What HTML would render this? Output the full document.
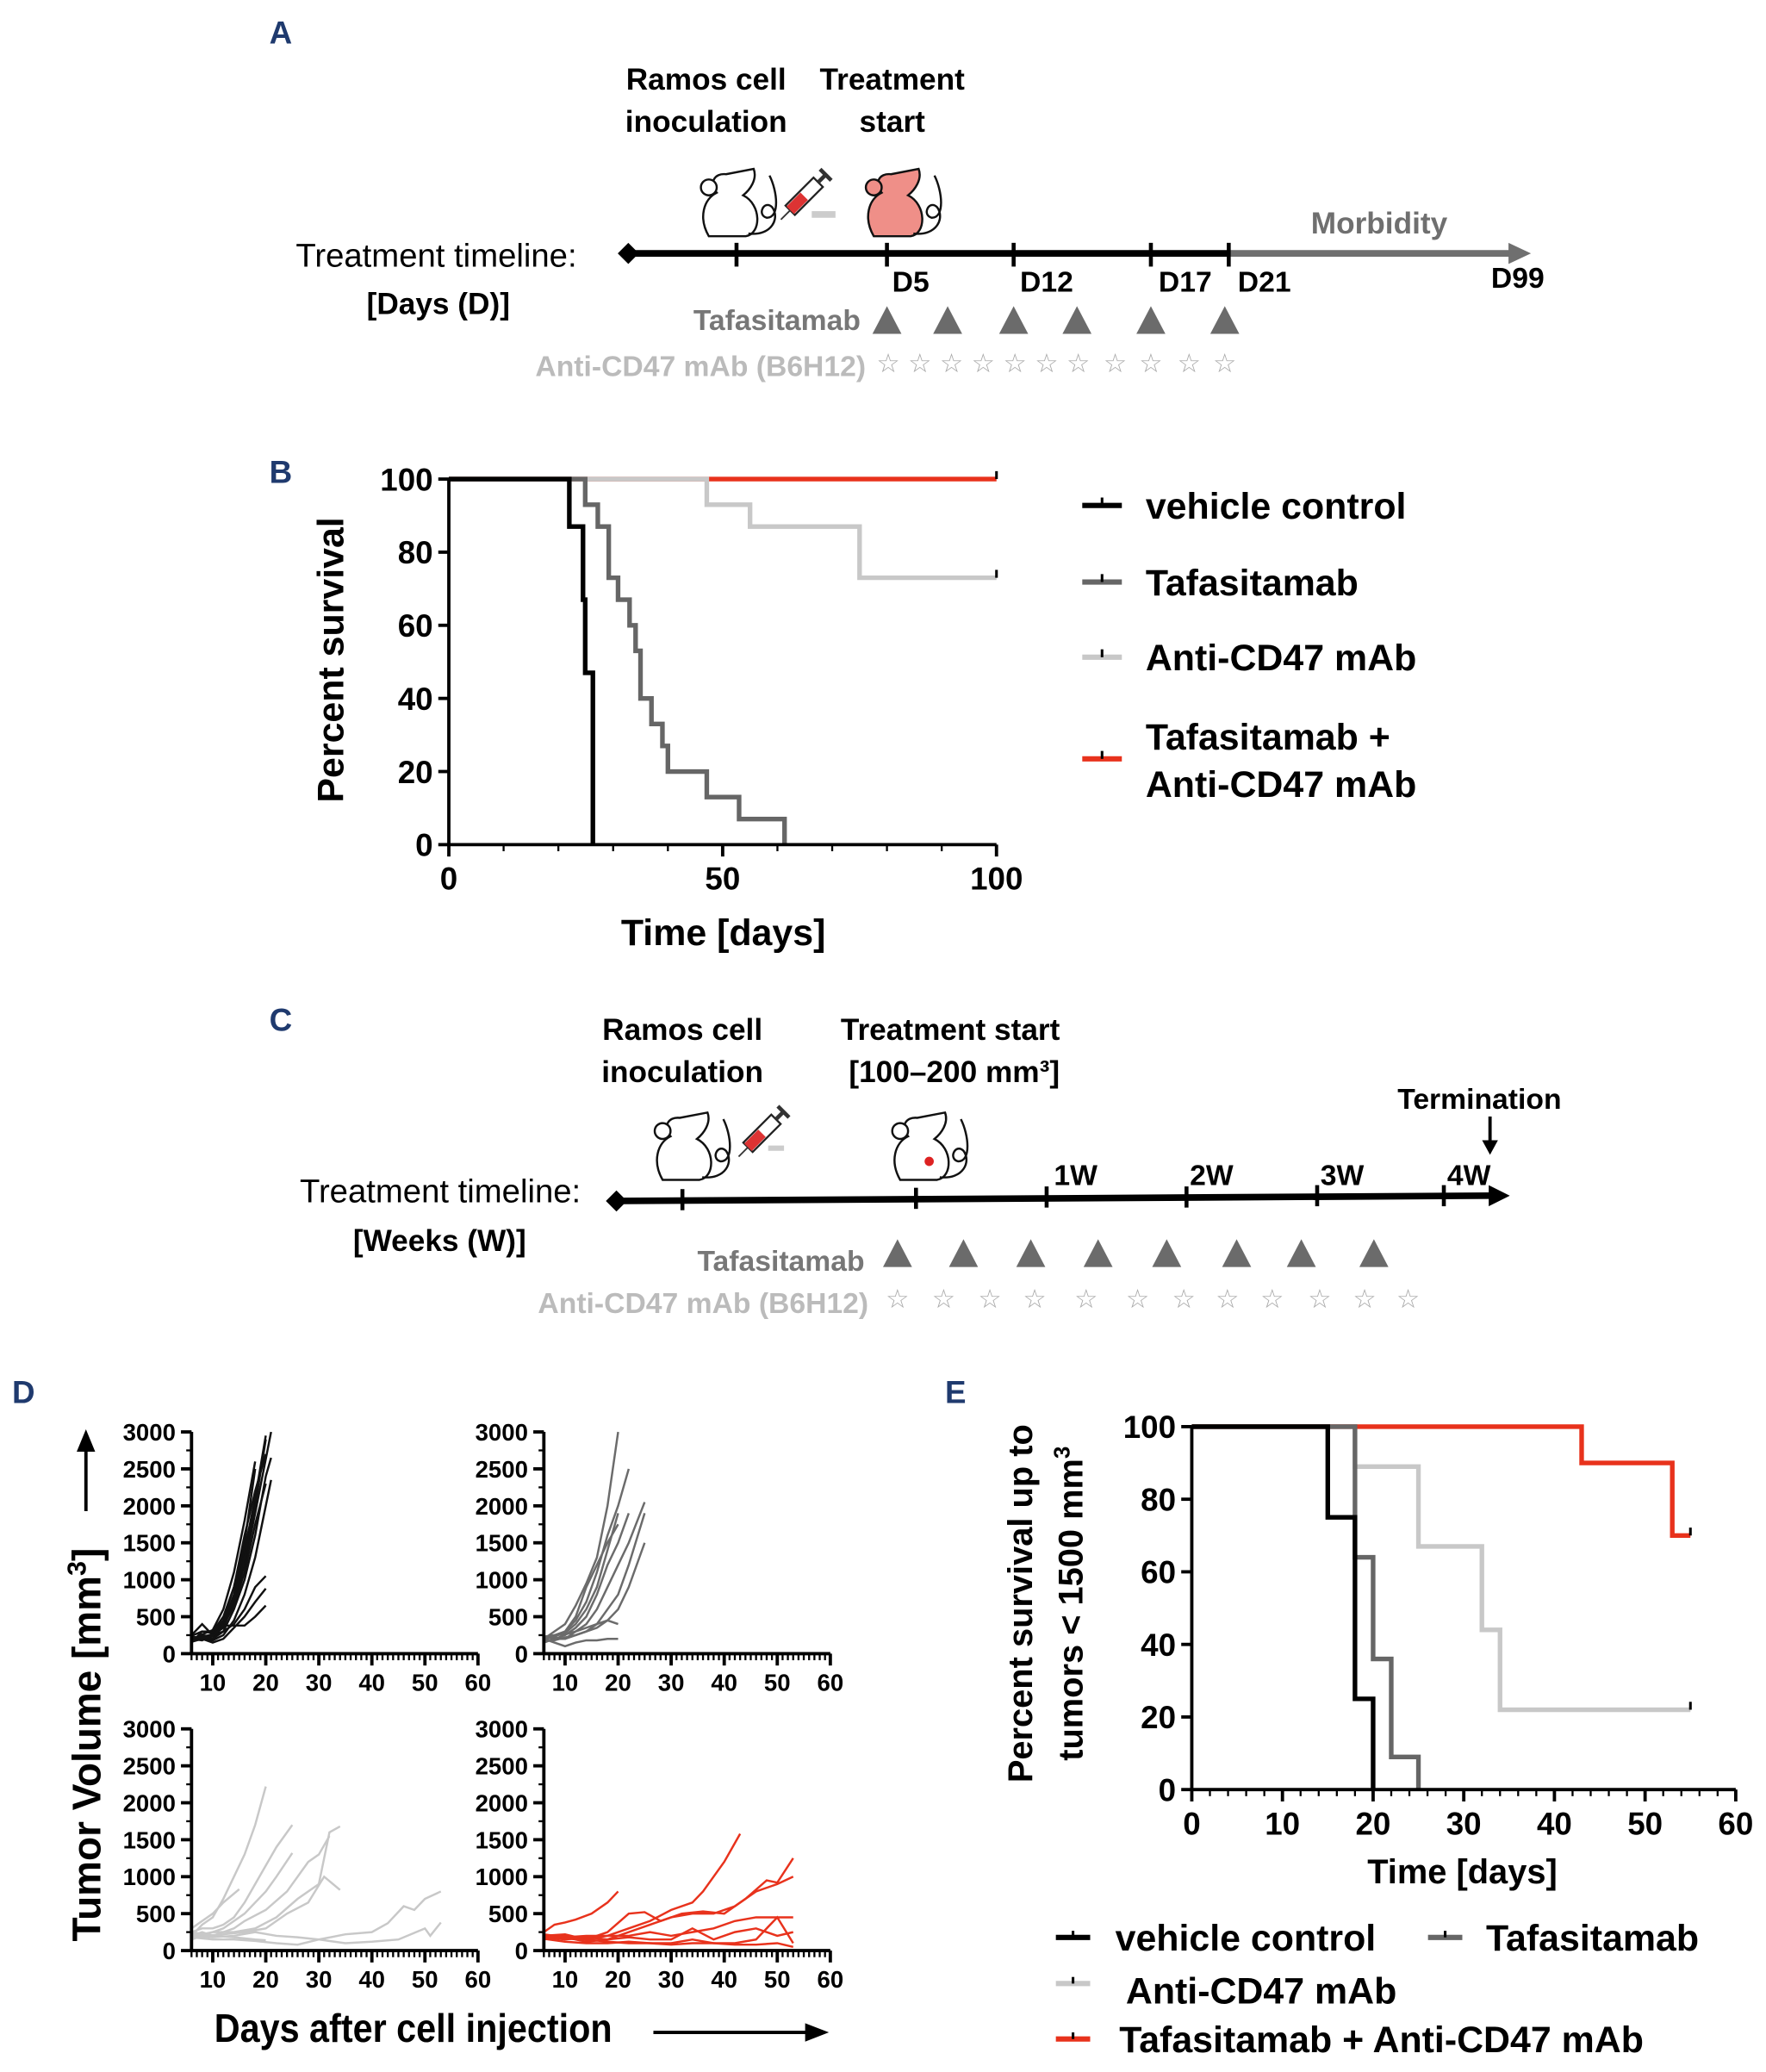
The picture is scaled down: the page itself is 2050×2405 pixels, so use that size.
<!DOCTYPE html>
<html><head><meta charset="utf-8"><style>
html,body{margin:0;padding:0;background:#fff}
svg{display:block}
text{font-family:"Liberation Sans",Arial,sans-serif;font-weight:bold}
</style></head><body>
<svg id="fig" xmlns="http://www.w3.org/2000/svg" width="2050" height="2405" viewBox="0 0 1338 1570">
<rect width="1338" height="1570" fill="#fff"/>
<!-- Panel A -->
<g>
<text x="204" y="33" font-size="24" fill="#1f3a6e">A</text>
<text x="535" y="68" font-size="23" text-anchor="middle">Ramos cell</text>
<text x="535" y="100" font-size="23" text-anchor="middle">inoculation</text>
<text x="676" y="68" font-size="23" text-anchor="middle">Treatment</text>
<text x="676" y="100" font-size="23" text-anchor="middle">start</text>
<g id="miceA"></g>
<line x1="478" y1="192" x2="932" y2="192" stroke="#000" stroke-width="5"/>
<polygon points="468,192 476,184 484,192 476,200" fill="#000"/>
<line x1="932" y1="192" x2="1145" y2="192" stroke="#6f6f6f" stroke-width="5"/>
<polygon points="1143,184 1160,192 1143,200" fill="#6f6f6f"/>
<text x="1045" y="177" font-size="23" fill="#6f6f6f" text-anchor="middle">Morbidity</text>
<g stroke="#000" stroke-width="3">
<line x1="558" y1="184" x2="558" y2="202"/><line x1="672" y1="184" x2="672" y2="202"/><line x1="768" y1="184" x2="768" y2="202"/><line x1="872" y1="184" x2="872" y2="202"/><line x1="931" y1="184" x2="931" y2="202"/></g>
<g font-size="22">
<text x="690" y="221" text-anchor="middle">D5</text><text x="793" y="221" text-anchor="middle">D12</text><text x="898" y="221" text-anchor="middle">D17</text><text x="958" y="221" text-anchor="middle">D21</text><text x="1150" y="218" text-anchor="middle">D99</text></g>
<text x="437" y="202" font-size="25" text-anchor="end" style="font-weight:normal">Treatment timeline:</text>
<text x="332" y="238" font-size="23" text-anchor="middle">[Days (D)]</text>
<text x="652" y="250" font-size="22" fill="#777" text-anchor="end">Tafasitamab</text>
<text x="656" y="285" font-size="22" fill="#bbb" text-anchor="end">Anti-CD47 mAb (B6H12)</text>
<g id="triA"></g><g id="starA"></g>
</g>
<!-- Panel B -->
<g>
<text x="204" y="366" font-size="24" fill="#1f3a6e">B</text>
<text transform="translate(260,500) rotate(-90)" font-size="28" text-anchor="middle">Percent survival</text>
<text x="548" y="716" font-size="28" text-anchor="middle">Time [days]</text>
<g id="chartB"></g>
<g>
<line x1="820" y1="383" x2="850" y2="383" stroke="#000" stroke-width="4"/><line x1="835" y1="377" x2="835" y2="383" stroke="#000" stroke-width="2"/>
<text x="868" y="393" font-size="28">vehicle control</text>
<line x1="820" y1="441" x2="850" y2="441" stroke="#666" stroke-width="4"/><line x1="835" y1="435" x2="835" y2="441" stroke="#000" stroke-width="2"/>
<text x="868" y="451" font-size="28">Tafasitamab</text>
<line x1="820" y1="498" x2="850" y2="498" stroke="#c8c8c8" stroke-width="4"/><line x1="835" y1="492" x2="835" y2="498" stroke="#000" stroke-width="2"/>
<text x="868" y="508" font-size="28">Anti-CD47 mAb</text>
<line x1="820" y1="575" x2="850" y2="575" stroke="#e8321c" stroke-width="4"/><line x1="835" y1="569" x2="835" y2="575" stroke="#000" stroke-width="2"/>
<text x="868" y="568" font-size="28">Tafasitamab +</text>
<text x="868" y="604" font-size="28">Anti-CD47 mAb</text>
</g>
</g>
<!-- Panel C -->
<g>
<text x="204" y="781" font-size="24" fill="#1f3a6e">C</text>
<text x="517" y="788" font-size="23" text-anchor="middle">Ramos cell</text>
<text x="517" y="820" font-size="23" text-anchor="middle">inoculation</text>
<text x="720" y="788" font-size="23" text-anchor="middle">Treatment start</text>
<text x="723" y="820" font-size="23" text-anchor="middle">[100–200 mm³]</text>
<text x="1121" y="840" font-size="22" text-anchor="middle">Termination</text>
<line x1="1129" y1="846" x2="1129" y2="866" stroke="#000" stroke-width="2.5"/>
<polygon points="1123,864 1135,864 1129,875" fill="#000"/>
<g id="miceC"></g>
<line x1="470" y1="910" x2="1130" y2="906" stroke="#000" stroke-width="5"/>
<polygon points="1128,898 1144,906 1128,914" fill="#000"/>
<polygon points="459,910 467,902 475,910 467,918" fill="#000"/>
<g stroke="#000" stroke-width="3">
<line x1="517" y1="901" x2="517" y2="917"/><line x1="694" y1="900" x2="694" y2="916"/><line x1="793" y1="899" x2="793" y2="915"/><line x1="899" y1="899" x2="899" y2="915"/><line x1="998" y1="898" x2="998" y2="914"/><line x1="1094" y1="898" x2="1094" y2="914"/></g>
<g font-size="22">
<text x="815" y="898" text-anchor="middle">1W</text><text x="918" y="898" text-anchor="middle">2W</text><text x="1017" y="898" text-anchor="middle">3W</text><text x="1113" y="898" text-anchor="middle">4W</text></g>
<text x="440" y="911" font-size="25" text-anchor="end" style="font-weight:normal">Treatment timeline:</text>
<text x="333" y="948" font-size="23" text-anchor="middle">[Weeks (W)]</text>
<text x="655" y="963" font-size="22" fill="#777" text-anchor="end">Tafasitamab</text>
<text x="658" y="995" font-size="22" fill="#bbb" text-anchor="end">Anti-CD47 mAb (B6H12)</text>
<g id="triC"></g><g id="starC"></g>
</g>
<!-- Panel D -->
<g>
<text x="9" y="1063" font-size="24" fill="#1f3a6e">D</text>
<text transform="translate(76,1322) rotate(-90)" font-size="30" text-anchor="middle">Tumor Volume [mm<tspan baseline-shift="super" font-size="20">3</tspan>]</text>
<line x1="65" y1="1145" x2="65" y2="1098" stroke="#000" stroke-width="2.5"/>
<polygon points="58,1100 72,1100 65,1083" fill="#000"/>
<text x="313" y="1547" font-size="30" text-anchor="middle" transform="translate(313,0) scale(0.9,1) translate(-313,0)">Days after cell injection</text>
<line x1="495" y1="1540" x2="612" y2="1540" stroke="#000" stroke-width="2.5"/>
<polygon points="610,1533 628,1540 610,1547" fill="#000"/>
<g id="chartD"></g>
</g>
<!-- Panel E -->
<g>
<text x="716" y="1063" font-size="24" fill="#1f3a6e">E</text>
<text transform="translate(782,1215) rotate(-90)" font-size="26" text-anchor="middle">Percent survival up to</text>
<text transform="translate(820,1215) rotate(-90)" font-size="26" text-anchor="middle">tumors &lt; 1500 mm<tspan baseline-shift="super" font-size="17">3</tspan></text>
<text x="1108" y="1427" font-size="26" text-anchor="middle">Time [days]</text>
<g id="chartE"></g>
<g>
<line x1="800" y1="1468" x2="826" y2="1468" stroke="#000" stroke-width="4"/><line x1="813" y1="1463" x2="813" y2="1468" stroke="#000" stroke-width="2"/>
<text x="845" y="1478" font-size="28">vehicle control</text>
<line x1="1082" y1="1468" x2="1108" y2="1468" stroke="#666" stroke-width="4"/><line x1="1095" y1="1463" x2="1095" y2="1468" stroke="#000" stroke-width="2"/>
<text x="1126" y="1478" font-size="28">Tafasitamab</text>
<line x1="800" y1="1503" x2="826" y2="1503" stroke="#c8c8c8" stroke-width="4"/><line x1="813" y1="1498" x2="813" y2="1503" stroke="#000" stroke-width="2"/>
<text x="853" y="1518" font-size="28">Anti-CD47 mAb</text>
<line x1="800" y1="1545" x2="826" y2="1545" stroke="#e8321c" stroke-width="4"/><line x1="813" y1="1540" x2="813" y2="1545" stroke="#000" stroke-width="2"/>
<text x="848" y="1555" font-size="28">Tafasitamab + Anti-CD47 mAb</text>
</g>
</g>
</svg>
<script>
// ---------- Panel B data ----------
const bVehT=[0,22,24.5,24.9,26.3];
const bVehS=[100,87,67,47,0];
const bTafT=[0,24.9,27.2,29.2,30.9,33,34.1,35,37,39,40,47.1,53,61.3];
const bTafS=[100,93,87,73,67,60,53,40,33,27,20,13,7,0];
const bAntiT=[0,47.1,55,75];
const bAntiS=[100,93,87,73];
const bComboT=[0];
const bComboS=[100];
const bXTicks=[0,50,100];
const bYTicks=[0,20,40,60,80,100];
// ---------- Panel E data ----------
const eVehT=[0,15,18,20];
const eVehS=[100,75,25,0];
const eTafT=[0,18,20,22,25];
const eTafS=[100,64,36,9,0];
const eAntiT=[0,18,25,32,34];
const eAntiS=[100,89,67,44,22];
const eComboT=[0,43,53];
const eComboS=[100,90,70];
const eXTicks=[0,10,20,30,40,50,60];
const eYTicks=[0,20,40,60,80,100];
// ---------- Panel D data ----------
const dXTicks=[10,20,30,40,50,60];
const dYTicks=[0,500,1000,1500,2000,2500,3000];
const vehicleGrowth=[
[[6,200],[8,250],[10,230],[12,400],[14,800],[16,1400],[18,2100],[20,2950]],
[[6,150],[8,300],[10,300],[12,500],[14,900],[16,1500],[18,2500]],
[[6,250],[8,400],[10,250],[12,350],[14,700],[16,1200],[18,1900],[21,3000]],
[[6,180],[8,220],[10,200],[12,300],[14,600],[16,1000],[18,1600],[20,2400],[21,2650]],
[[6,220],[8,200],[10,180],[12,250],[14,450],[16,800],[18,1300],[20,2000],[21,2350]],
[[6,200],[8,180],[10,250],[12,300],[14,400],[16,600],[18,900],[20,1050]],
[[6,160],[8,200],[10,150],[12,200],[14,350],[16,500],[18,700],[20,880]],
[[6,200],[8,250],[10,200],[12,380],[14,380],[16,380],[18,500],[20,650]],
[[6,240],[8,300],[10,280],[12,450],[14,900],[16,1600],[18,2200],[20,2700]],
[[6,190],[8,260],[10,320],[12,600],[14,1100],[16,1800],[18,2600]],
[[6,210],[8,230],[10,260],[12,420],[14,750],[16,1300],[18,2000],[20,2900]],
[[6,230],[8,210],[10,240],[12,380],[14,650],[16,1100],[18,1750],[20,2300]]];
const tafGrowth=[
[[6,200],[8,300],[10,400],[12,650],[14,950],[16,1300],[18,2000],[20,3000]],
[[6,180],[8,250],[10,300],[12,450],[14,700],[16,1100],[18,1600],[20,2000],[22,2500]],
[[6,220],[8,200],[10,250],[12,350],[14,500],[16,800],[18,1200],[20,1500],[22,1900]],
[[6,150],[8,200],[10,200],[12,300],[14,400],[16,600],[18,900],[20,1200],[22,1500],[25,2050]],
[[6,200],[8,220],[10,200],[12,250],[14,300],[16,400],[18,600],[20,800],[22,1200],[25,1900]],
[[6,170],[8,180],[10,220],[12,250],[14,300],[16,350],[18,450],[20,600],[22,900],[25,1500]],
[[6,200],[8,150],[10,100],[12,150],[14,180],[16,180],[18,200],[20,200]],
[[6,230],[8,250],[10,260],[12,300],[14,350],[16,400],[18,450],[20,400]],
[[6,190],[8,230],[10,300],[12,500],[14,900],[16,1200],[18,1500],[20,1750]],
[[6,210],[8,240],[10,280],[12,400],[14,600],[16,900],[18,1400],[20,1900]]];
const antiGrowth=[
[[6,200],[8,350],[10,450],[12,700],[14,1000],[16,1300],[18,1700],[20,2220]],
[[6,250],[8,300],[10,300],[12,350],[14,450],[16,650],[18,900],[20,1150],[22,1400],[25,1700]],
[[6,150],[8,200],[10,250],[12,300],[14,400],[16,500],[18,650],[20,800],[22,1000],[25,1320]],
[[6,200],[8,250],[10,200],[12,250],[14,300],[16,400],[20,550],[24,800],[28,1200],[30,1300],[32,1550]],
[[6,180],[8,220],[10,250],[14,250],[18,300],[22,450],[26,700],[30,900],[32,1600],[34,1680]],
[[6,220],[8,200],[12,220],[16,250],[20,300],[24,500],[28,650],[31,1000],[34,820]],
[[6,300],[8,400],[10,500],[12,650],[15,830]],
[[6,200],[10,180],[14,200],[18,250],[22,200],[26,180],[30,150],[35,220],[40,250],[43,370],[46,600],[48,550],[50,700],[53,800]],
[[6,180],[10,150],[14,150],[18,130],[22,100],[26,80],[30,150],[35,100],[40,120],[45,150],[50,300],[51,200],[53,380]],
[[6,250],[10,200],[14,180],[18,150],[20,140]]];
const comboGrowth=[
[[6,250],[8,350],[10,380],[12,420],[15,500],[18,650],[20,800]],
[[6,200],[10,180],[14,200],[18,200],[22,300],[26,400],[30,550],[34,650],[36,800],[40,1200],[43,1580]],
[[6,150],[10,200],[14,150],[18,250],[22,500],[25,520],[28,400],[32,500],[36,530],[40,500],[44,700],[48,950],[50,920],[53,1250]],
[[6,180],[10,150],[14,180],[18,150],[22,250],[26,350],[30,450],[34,500],[38,500],[42,600],[46,800],[50,900],[53,1000]],
[[6,200],[10,220],[14,150],[18,200],[22,200],[26,250],[30,200],[34,250],[38,300],[42,400],[46,450],[50,450],[53,450]],
[[6,220],[10,180],[14,120],[18,150],[22,180],[26,150],[30,150],[34,300],[38,150],[42,250],[46,300],[50,200],[53,250]],
[[6,160],[10,120],[14,100],[18,100],[22,120],[26,100],[30,100],[34,150],[38,100],[42,100],[46,150],[50,450],[53,100]],
[[6,190],[10,160],[14,150],[18,120],[22,100],[26,100],[30,80],[34,100],[38,100],[42,80],[46,80],[50,100],[53,50]]];

const NS='http://www.w3.org/2000/svg';
function mk(tag,attrs,parent){const e=document.createElementNS(NS,tag);for(const k in attrs)e.setAttribute(k,attrs[k]);parent.appendChild(e);return e;}

function mouse(parent,cx,cy,fill,name){
  const g=mk('g',{transform:`translate(${cx},${cy})`,fill:fill,stroke:'#111','stroke-width':'1.6'},parent);
  
  
  mk('path',{d:'M-18,24 C-26,10 -22,-4 -12,-9 C-18,-16 -14,-24 -5,-23 L16,-27 C19,-19 13,-11 8,-7 C22,0 22,22 10,24 Z'},g);
  mk('circle',{cx:-18,cy:-13,r:6},g);
  mk('path',{d:'M12,22 C30,24 36,10 30,2 C24,-4 18,8 26,10 C36,10 34,-10 28,-22',fill:'none'},g);
}
function syringe(parent,cx,cy,name){
  const g=mk('g',{transform:`translate(${cx},${cy}) rotate(-45)`},parent);
  
  
  mk('rect',{x:-16,y:-5,width:30,height:10,fill:'#fff',stroke:'#222','stroke-width':1.5},g);
  mk('rect',{x:-16,y:-4,width:15,height:8,fill:'#d33'},g);
  mk('line',{x1:-16,y1:0,x2:-26,y2:0,stroke:'#333','stroke-width':1.2},g);
  mk('line',{x1:14,y1:0,x2:22,y2:0,stroke:'#333','stroke-width':3},g);
  mk('line',{x1:22,y1:-6,x2:22,y2:6,stroke:'#333','stroke-width':3},g);
}
mouse(document.getElementById('miceA'),555,155,'#fff','mouse-inoculation');
syringe(document.getElementById('miceA'),610,148,'syringe-a');
mk('rect',{x:615,y:160,width:18,height:5,fill:'#ccc'},document.getElementById('miceA'));
mouse(document.getElementById('miceA'),680,155,'#ef8f88','mouse-treatment');
mouse(document.getElementById('miceC'),520,870,'#fff','mouse-inoculation-c');
syringe(document.getElementById('miceC'),578,858,'syringe-c');
mk('rect',{x:582,y:868,width:12,height:4,fill:'#ccc'},document.getElementById('miceC'));
mouse(document.getElementById('miceC'),700,870,'#fff','mouse-treatment-c');
mk('circle',{cx:704,cy:880,r:3.5,fill:'#d22'},document.getElementById('miceC'));

const triAx=[672,718,768,816,872,928], starAx=[673,697,721,745,769,793,817,845,872,901,928];
const triCx=[680,730,781,832,884,937,986,1041], starCx=[680,715,750,784,823,862,897,930,964,1000,1034,1067];
function tris(id,xs,y){const p=document.getElementById(id);xs.forEach(x=>{const t=mk('polygon',{points:`${x-11},${y+10} ${x+11},${y+10} ${x},${y-11}`,fill:'#6b6b6b'},p);

});}
function stars(id,xs,y){const p=document.getElementById(id);xs.forEach(x=>{const t=mk('text',{x:x,y:y+7,'font-size':20,fill:'#aaa','text-anchor':'middle',style:'font-weight:normal'},p);t.textContent='☆';

});}
tris('triA',triAx,243);stars('starA',starAx,275);
tris('triC',triCx,950);stars('starC',starCx,984);

function stepPath(T,S,endT,fx,fy){let d=`M${fx(T[0])},${fy(S[0])}`;for(let i=1;i<T.length;i++){d+=` H${fx(T[i])} V${fy(S[i])}`;}if(endT!=null)d+=` H${fx(endT)}`;return d;}
function axes(g,fx,fy,xt,yt,xmin,xmax,xminor,yminor,fs,name){
  const ax=mk('g',{stroke:'#000','stroke-width':2.5,fill:'none'},g);
  
  
  mk('line',{x1:fx(xmin),y1:fy(0),x2:fx(xmax),y2:fy(0)},ax);
  mk('line',{x1:fx(xmin),y1:fy(0),x2:fx(xmin),y2:fy(yt[yt.length-1])},ax);
  yt.forEach(v=>{mk('line',{x1:fx(xmin)-8,y1:fy(v),x2:fx(xmin),y2:fy(v)},ax);
    const t=mk('text',{x:fx(xmin)-12,y:fy(v)+fs*0.36,'font-size':fs,'text-anchor':'end',fill:'#000',stroke:'none'},g);t.textContent=v;
    
    });
  xt.forEach(v=>{mk('line',{x1:fx(v),y1:fy(0),x2:fx(v),y2:fy(0)+9},ax);
    const t=mk('text',{x:fx(v),y:fy(0)+fs+10,'font-size':fs,'text-anchor':'middle',fill:'#000',stroke:'none'},g);t.textContent=v;
    
    });
  if(xminor)for(let v=xmin;v<=xmax;v+=xminor){mk('line',{x1:fx(v),y1:fy(0),x2:fx(v),y2:fy(0)+5,'stroke-width':1.5},ax);}
  if(yminor)for(let v=0;v<=yt[yt.length-1];v+=yminor){mk('line',{x1:fx(xmin)-4,y1:fy(v),x2:fx(xmin),y2:fy(v),'stroke-width':1.5},ax);}
}
function curve(g,T,S,endT,fx,fy,color,name,censor){
  const p=mk('path',{d:stepPath(T,S,endT,fx,fy),fill:'none',stroke:color,'stroke-width':3.5},g);
  
  
  if(censor){const c=mk('line',{x1:fx(endT),y1:fy(S[S.length-1])-6,x2:fx(endT),y2:fy(S[S.length-1]),stroke:'#000','stroke-width':2},g);
  
  }
}
const bx=d=>340+d*4.15, by=p=>640-p*2.77;
const gB=document.getElementById('chartB');
curve(gB,bComboT,bComboS,100,bx,by,'#e8321c','b-combo-curve',true);
curve(gB,bAntiT,bAntiS,100,bx,by,'#c8c8c8','b-anti-cd47-curve',true);
curve(gB,bTafT,bTafS,null,bx,by,'#666','b-tafasitamab-curve',false);
curve(gB,bVehT,bVehS,null,bx,by,'#000','b-vehicle-curve',false);
axes(gB,bx,by,bXTicks,bYTicks,0,100,10,0,24,'b');
const ex=d=>903+d*6.87, ey=p=>1356-p*2.75;
const gE=document.getElementById('chartE');
curve(gE,eAntiT,eAntiS,55,ex,ey,'#c8c8c8','e-anti-cd47-curve',true);
curve(gE,eComboT,eComboS,55,ex,ey,'#e8321c','e-combo-curve',true);
curve(gE,eTafT,eTafS,null,ex,ey,'#666','e-tafasitamab-curve',false);
curve(gE,eVehT,eVehS,null,ex,ey,'#000','e-vehicle-curve',false);
axes(gE,ex,ey,eXTicks,eYTicks,0,60,2,0,24,'e');
const gD=document.getElementById('chartD');
const panels=[[145,1253,vehicleGrowth,'#111','vehicle'],[412,1253,tafGrowth,'#6b6b6b','tafasitamab'],[145,1478,antiGrowth,'#c8c8c8','anti-cd47'],[412,1478,comboGrowth,'#e8321c','combo']];
panels.forEach(([x0,y0,data,col,nm])=>{
  const fx=d=>x0+(d-6)*4.02, fy=v=>y0-v*0.056;
  const g=mk('g',{},gD);
  
  
  data.forEach(line=>{const p=mk('polyline',{points:line.map(([d,v])=>`${fx(d)},${fy(v)}`).join(' '),fill:'none',stroke:col,'stroke-width':1.6},g);
    
    });
  axes(g,fx,fy,dXTicks,dYTicks,6,60,1,250,18,'d-'+nm);
});
</script>
</body></html>
